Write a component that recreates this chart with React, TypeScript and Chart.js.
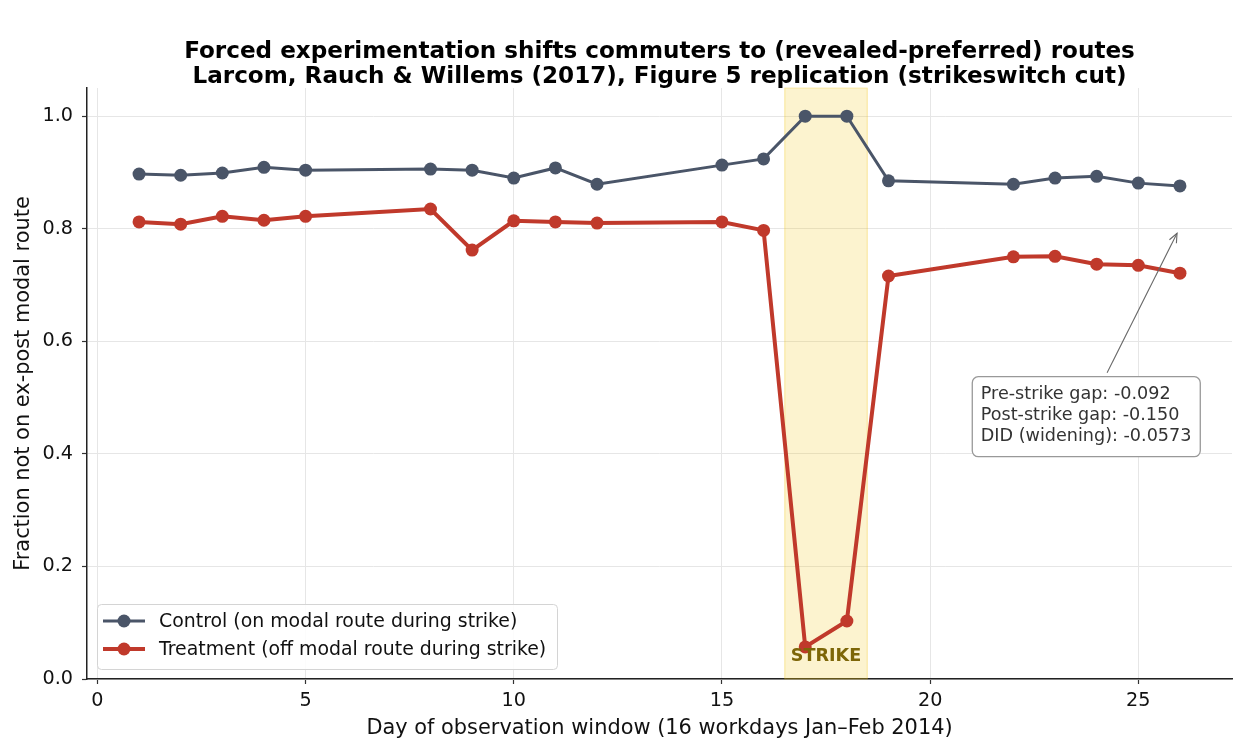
import React, { useEffect, useRef } from "react";
import { Chart, registerables } from "chart.js";

Chart.register(...registerables);

const days = [1, 2, 3, 4, 5, 8, 9, 10, 11, 12, 15, 16, 17, 18, 19, 22, 23, 24, 25, 26];
const controlValues = [0.897, 0.895, 0.899, 0.909, 0.904, 0.906, 0.904, 0.890, 0.908, 0.879, 0.913, 0.924, 1.0, 1.0, 0.885, 0.879, 0.890, 0.893, 0.881, 0.876];
const treatmentValues = [0.812, 0.808, 0.822, 0.815, 0.822, 0.835, 0.762, 0.814, 0.812, 0.810, 0.812, 0.797, 0.057, 0.103, 0.716, 0.750, 0.751, 0.737, 0.735, 0.721];
const xTicks = [0, 5, 10, 15, 20, 25];
const yTicks = [0, 0.2, 0.4, 0.6, 0.8, 1.0];
const strikeStart = 16.5;
const strikeEnd = 18.5;
const seriesLabels = ["Control (on modal route during strike)", "Treatment (off modal route during strike)"];
const annotationLines = ["Pre-strike gap: -0.092", "Post-strike gap: -0.150", "DID (widening): -0.0573"];
const titleLines = [
  "Forced experimentation shifts commuters to (revealed-preferred) routes",
  "Larcom, Rauch & Willems (2017), Figure 5 replication (strikeswitch cut)",
];
const xLabel = "Day of observation window (16 workdays Jan\u2013Feb 2014)";
const yLabel = "Fraction not on ex-post modal route";

const CONTROL_COLOR = "#4a5568";
const TREATMENT_COLOR = "#c0392b";
const FONT = "'DejaVu Sans', sans-serif";

const W = 1245;
const H = 755;

export default function App() {
  const ref = useRef<HTMLCanvasElement | null>(null);

  useEffect(() => {
    if (!ref.current) return;

    const overlay = {
      id: "overlay",
      beforeDatasetsDraw(chart: any) {
        const { ctx, chartArea, scales } = chart;
        const x = scales.x;
        const x0 = x.getPixelForValue(strikeStart);
        const x1 = x.getPixelForValue(strikeEnd);
        ctx.save();
        ctx.fillStyle = "rgba(241,196,15,0.2)";
        ctx.fillRect(x0, chartArea.top, x1 - x0, chartArea.bottom - chartArea.top);
        ctx.strokeStyle = "rgba(241,196,15,0.3)";
        ctx.lineWidth = 1;
        ctx.strokeRect(x0 + 0.5, chartArea.top, x1 - x0 - 1, chartArea.bottom - chartArea.top);
        ctx.restore();
      },
      afterDatasetsDraw(chart: any) {
        const { ctx, chartArea, scales } = chart;
        const x = scales.x;
        const y = scales.y;
        ctx.save();
        // STRIKE label
        ctx.fillStyle = "#7d6608";
        ctx.font = `bold 17.6px ${FONT}`;
        ctx.textAlign = "center";
        ctx.textBaseline = "middle";
        ctx.fillText("STRIKE", x.getPixelForValue((strikeStart + strikeEnd) / 2), y.getPixelForValue(0.04));

        // Title
        ctx.fillStyle = "#000";
        ctx.font = `bold 23.1px ${FONT}`;
        const cx = (chartArea.left + chartArea.right) / 2;
        ctx.fillText(titleLines[0], cx, 52);
        ctx.fillText(titleLines[1], cx, 77);

        // Axis labels
        ctx.font = `20.9px ${FONT}`;
        ctx.fillStyle = "#111";
        ctx.fillText(xLabel, cx, 729);
        ctx.save();
        ctx.translate(24, (chartArea.top + chartArea.bottom) / 2);
        ctx.rotate(-Math.PI / 2);
        ctx.fillText(yLabel, 0, 0);
        ctx.restore();

        // Legend
        const lx = 97, ly = 604, lw = 460, lh = 65;
        ctx.beginPath();
        ctx.roundRect(lx + 0.5, ly + 0.5, lw, lh, 4);
        ctx.fillStyle = "rgba(255,255,255,0.85)";
        ctx.fill();
        ctx.strokeStyle = "#d4d4d4";
        ctx.lineWidth = 1;
        ctx.stroke();
        const entries = [
          { label: seriesLabels[0], color: CONTROL_COLOR, w: 3, yy: 621 },
          { label: seriesLabels[1], color: TREATMENT_COLOR, w: 4, yy: 649 },
        ];
        ctx.font = `18.9px ${FONT}`;
        ctx.textAlign = "left";
        for (const e of entries) {
          ctx.strokeStyle = e.color;
          ctx.lineWidth = e.w;
          ctx.beginPath();
          ctx.moveTo(103, e.yy);
          ctx.lineTo(145, e.yy);
          ctx.stroke();
          ctx.fillStyle = e.color;
          ctx.beginPath();
          ctx.arc(124, e.yy, 6.5, 0, Math.PI * 2);
          ctx.fill();
          ctx.fillStyle = "#111";
          ctx.fillText(e.label, 159, e.yy + 1);
        }

        // Annotation arrow
        const tipX = x.getPixelForValue(25.93);
        const tipY = y.getPixelForValue(0.792);
        const tailX = x.getPixelForValue(24.25);
        const tailY = y.getPixelForValue(0.544);
        ctx.strokeStyle = "#666";
        ctx.lineWidth = 1.1;
        ctx.beginPath();
        ctx.moveTo(tailX, tailY);
        ctx.lineTo(tipX, tipY);
        ctx.stroke();
        const ang = Math.atan2(tipY - tailY, tipX - tailX);
        const hl = 10;
        ctx.beginPath();
        ctx.moveTo(tipX - hl * Math.cos(ang - 0.4), tipY - hl * Math.sin(ang - 0.4));
        ctx.lineTo(tipX, tipY);
        ctx.lineTo(tipX - hl * Math.cos(ang + 0.4), tipY - hl * Math.sin(ang + 0.4));
        ctx.stroke();

        // Annotation box
        const bx = x.getPixelForValue(21.0);
        const by = y.getPixelForValue(0.538);
        ctx.beginPath();
        ctx.roundRect(bx + 0.5, by + 0.5, 228, 80, 6);
        ctx.fillStyle = "#fff";
        ctx.fill();
        ctx.strokeStyle = "#999";
        ctx.lineWidth = 1.3;
        ctx.stroke();
        ctx.fillStyle = "#333";
        ctx.font = `17.6px ${FONT}`;
        ctx.textBaseline = "middle";
        annotationLines.forEach((t, i) => ctx.fillText(t, bx + 9, by + 18 + i * 21));
        ctx.restore();
      },
    };

    const chart = new Chart(ref.current, {
      type: "line",
      data: {
        datasets: [
          {
            label: seriesLabels[0],
            data: days.map((d, i) => ({ x: d, y: controlValues[i] })),
            borderColor: CONTROL_COLOR,
            backgroundColor: CONTROL_COLOR,
            borderWidth: 3,
            pointRadius: 6.5,
            pointBorderWidth: 0,
            pointBackgroundColor: CONTROL_COLOR,
            tension: 0,
          },
          {
            label: seriesLabels[1],
            data: days.map((d, i) => ({ x: d, y: treatmentValues[i] })),
            borderColor: TREATMENT_COLOR,
            backgroundColor: TREATMENT_COLOR,
            borderWidth: 4,
            pointRadius: 6.5,
            pointBorderWidth: 0,
            pointBackgroundColor: TREATMENT_COLOR,
            tension: 0,
          },
        ],
      },
      options: {
        responsive: false,
        animation: false,
        layout: { padding: { left: 0, top: 88, right: 13, bottom: 0 } },
        plugins: {
          legend: { display: false },
          title: { display: false },
          tooltip: { enabled: false },
        },
        scales: {
          x: {
            type: "linear",
            min: -0.25,
            max: 27.25,
            afterBuildTicks: (s: any) => {
              s.ticks = xTicks.map((v) => ({ value: v }));
            },
            afterFit: (s: any) => {
              s.height = 76;
            },
            ticks: {
              color: "#111",
              font: { family: FONT, size: 19.2 },
              padding: 5,
              maxRotation: 0,
              callback: (v: any) => String(v),
            },
            grid: {
              color: "#e6e6e6",
              lineWidth: 1,
              tickColor: "#333",
              tickLength: 5,
              tickWidth: 1.2,
            },
            border: { color: "#222", width: 1.5 },
          },
          y: {
            type: "linear",
            min: 0,
            max: 1.05,
            afterBuildTicks: (s: any) => {
              s.ticks = yTicks.map((v) => ({ value: v }));
            },
            afterFit: (s: any) => {
              s.width = 87;
            },
            ticks: {
              color: "#111",
              font: { family: FONT, size: 19.2 },
              padding: 9,
              callback: (v: any) => Number(v).toFixed(1),
            },
            grid: {
              color: "#e6e6e6",
              lineWidth: 1,
              tickColor: "#333",
              tickLength: 5,
              tickWidth: 1.2,
            },
            border: { color: "#222", width: 1.5 },
          },
        },
      },
      plugins: [overlay],
    } as any);

    return () => chart.destroy();
  }, []);

  return (
    <div style={{ position: "absolute", left: 0, top: 0, width: W, height: H, background: "#fff" }}>
      <canvas ref={ref} width={W} height={H} style={{ width: W, height: H, display: "block" }} />
    </div>
  );
}
